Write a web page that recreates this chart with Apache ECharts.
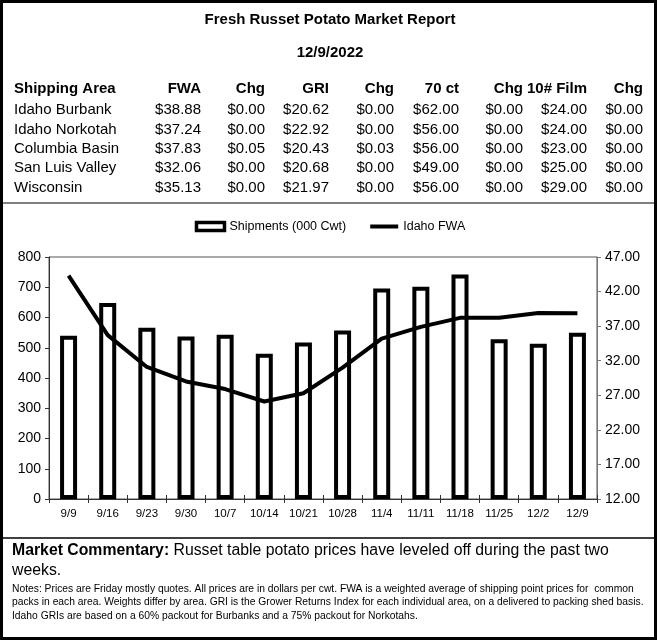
<!DOCTYPE html>
<html>
<head>
<meta charset="utf-8">
<script src="https://cdn.jsdelivr.net/npm/echarts@6/dist/echarts.min.js"></script>
<style>
html,body{margin:0;padding:0;background:#fff;}
#c{width:660px;height:642px;}
</style>
</head>
<body>
<div id="c"></div>
<script>
// ---- Table data ----
var tableHeaders = ['Shipping Area', 'FWA', 'Chg', 'GRI', 'Chg', '70 ct', 'Chg', '10# Film', 'Chg'];
var areas = ['Idaho Burbank', 'Idaho Norkotah', 'Columbia Basin', 'San Luis Valley', 'Wisconsin'];
var fwa = ['$38.88', '$37.24', '$37.83', '$32.06', '$35.13'];
var fwaChg = ['$0.00', '$0.00', '$0.05', '$0.00', '$0.00'];
var gri = ['$20.62', '$22.92', '$20.43', '$20.68', '$21.97'];
var griChg = ['$0.00', '$0.00', '$0.03', '$0.00', '$0.00'];
var ct70 = ['$62.00', '$56.00', '$56.00', '$49.00', '$56.00'];
var ct70Chg = ['$0.00', '$0.00', '$0.00', '$0.00', '$0.00'];
var film10 = ['$24.00', '$24.00', '$23.00', '$25.00', '$29.00'];
var film10Chg = ['$0.00', '$0.00', '$0.00', '$0.00', '$0.00'];

// ---- Chart data ----
var weeks = ['9/9', '9/16', '9/23', '9/30', '10/7', '10/14', '10/21', '10/28', '11/4', '11/11', '11/18', '11/25', '12/2', '12/9'];
var shipments = [540, 648, 566, 537, 543, 480, 517, 557, 696, 702, 742, 528, 513, 550];
var idahoFwa = [44.3, 35.7, 31.1, 29.0, 27.9, 26.1, 27.3, 31.0, 35.2, 36.9, 38.2, 38.2, 38.9, 38.88];

// ---- Texts ----
var titleText = 'Fresh Russet Potato Market Report';
var dateText = '12/9/2022';
var commentaryLabel = 'Market Commentary:';
var commentaryLines = [' Russet table potato prices have leveled off during the past two', 'weeks.'];
var notesLines = [
  'Notes: Prices are Friday mostly quotes. All prices are in dollars per cwt. FWA is a weighted average of shipping point prices for  common',
  'packs in each area. Weights differ by area. GRI is the Grower Returns Index for each individual area, on a delivered to packing shed basis.',
  'Idaho GRIs are based on a 60% packout for Burbanks and a 75% packout for Norkotahs.'
];

var FONT = '"Liberation Sans", Arial, sans-serif';
var colRight = [null, 201, 265, 329, 394, 459, 523, 587, 643];
var columns = [areas, fwa, fwaChg, gri, griChg, ct70, ct70Chg, film10, film10Chg];

var graphics = [];
graphics.push({type:'rect', shape:{x:1.5, y:1.5, width:654, height:637}, style:{fill:'none', stroke:'#000', lineWidth:3}, silent:true});
graphics.push({type:'line', shape:{x1:3, y1:203, x2:655, y2:203}, style:{stroke:'#000', lineWidth:1.2}});
graphics.push({type:'line', shape:{x1:3, y1:538, x2:655, y2:538}, style:{stroke:'#000', lineWidth:1.5}});
graphics.push({type:'text', x:330, y:20, style:{text:titleText, font:'bold 15px ' + FONT, fill:'#000', textAlign:'center', textVerticalAlign:'middle'}});
graphics.push({type:'text', x:330, y:53, style:{text:dateText, font:'bold 15px ' + FONT, fill:'#000', textAlign:'center', textVerticalAlign:'middle'}});

var headerY = 89, rowY0 = 110, rowH = 19.4;
for (var c = 0; c < tableHeaders.length; c++) {
  var hx = c === 0 ? 14 : colRight[c];
  graphics.push({type:'text', x:hx, y:headerY, style:{text:tableHeaders[c], font:'bold 15px ' + FONT, fill:'#000', textAlign: c === 0 ? 'left' : 'right', textVerticalAlign:'middle'}});
  for (var r = 0; r < areas.length; r++) {
    graphics.push({type:'text', x:hx, y:rowY0 + r * rowH, style:{text:columns[c][r], font:'15px ' + FONT, fill:'#000', textAlign: c === 0 ? 'left' : 'right', textVerticalAlign:'middle'}});
  }
}

graphics.push({type:'text', x:12, y:541, style:{
  text:'{b|' + commentaryLabel + '}{n|' + commentaryLines[0] + '}\n{n|' + commentaryLines[1] + '}',
  rich:{b:{fontWeight:'bold', fontSize:15.8, fontFamily:FONT, fill:'#000', lineHeight:20}, n:{fontSize:15.8, fontFamily:FONT, fill:'#000', lineHeight:20}},
  textAlign:'left', textVerticalAlign:'top'}});
for (var i = 0; i < notesLines.length; i++) {
  graphics.push({type:'text', x:12, y:589 + i * 13.5, style:{text:notesLines[i], font:'10.3px ' + FONT, fill:'#000', textAlign:'left', textVerticalAlign:'middle'}});
}

var chart = echarts.init(document.getElementById('c'));
chart.setOption({
  animation:false,
  backgroundColor:'#fff',
  textStyle:{fontFamily:FONT, color:'#000'},
  legend:{
    top:215, left:'center', itemWidth:28, itemHeight:8, itemGap:22,
    textStyle:{fontSize:12.5, color:'#000', fontFamily:FONT},
    data:[
      {name:'Shipments (000 Cwt)', icon:'rect', itemStyle:{color:'#fff', borderColor:'#000', borderWidth:3.5}},
      {name:'Idaho FWA', itemStyle:{opacity:0}, lineStyle:{color:'#000', width:4}}
    ]
  },
  grid:{left:49, right:63, top:257, bottom:143, show:true, borderColor:'#555', borderWidth:1, backgroundColor:'transparent'},
  xAxis:[{
    type:'category', data:weeks, position:'bottom',
    axisLine:{lineStyle:{color:'#333', width:1}},
    axisTick:{show:true, inside:false, length:4, lineStyle:{color:'#333'}},
    axisLabel:{fontSize:11.5, color:'#000', margin:9, fontFamily:FONT}
  },{
    type:'category', data:weeks, position:'bottom',
    axisLine:{show:false}, axisTick:{show:true, inside:true, length:4, lineStyle:{color:'#333'}},
    axisLabel:{show:false}
  }],
  yAxis:[{
    type:'value', min:0, max:800, interval:100, position:'left',
    axisLine:{show:true, lineStyle:{color:'#333'}},
    axisTick:{show:true, length:4, lineStyle:{color:'#333'}},
    splitLine:{show:false},
    axisLabel:{fontSize:14, color:'#000', margin:8, fontFamily:FONT}
  },{
    type:'value', min:12, max:47, interval:5, position:'right',
    axisLine:{show:true, lineStyle:{color:'#777'}},
    axisTick:{show:true, length:4, lineStyle:{color:'#777'}},
    splitLine:{show:false},
    axisLabel:{fontSize:14, color:'#000', margin:8, fontFamily:FONT, formatter:function(v){return v.toFixed(2);}}
  }],
  series:[{
    name:'Shipments (000 Cwt)', type:'bar', data:shipments, xAxisIndex:0, yAxisIndex:0,
    barWidth:17, itemStyle:{color:'#fff', borderColor:'#000', borderWidth:4}
  },{
    name:'Idaho FWA', type:'line', data:idahoFwa, xAxisIndex:0, yAxisIndex:1,
    symbol:'none', z:5, lineStyle:{color:'#000', width:4}, itemStyle:{color:'#000'}
  }],
  graphic:graphics
});
</script>
</body>
</html>
